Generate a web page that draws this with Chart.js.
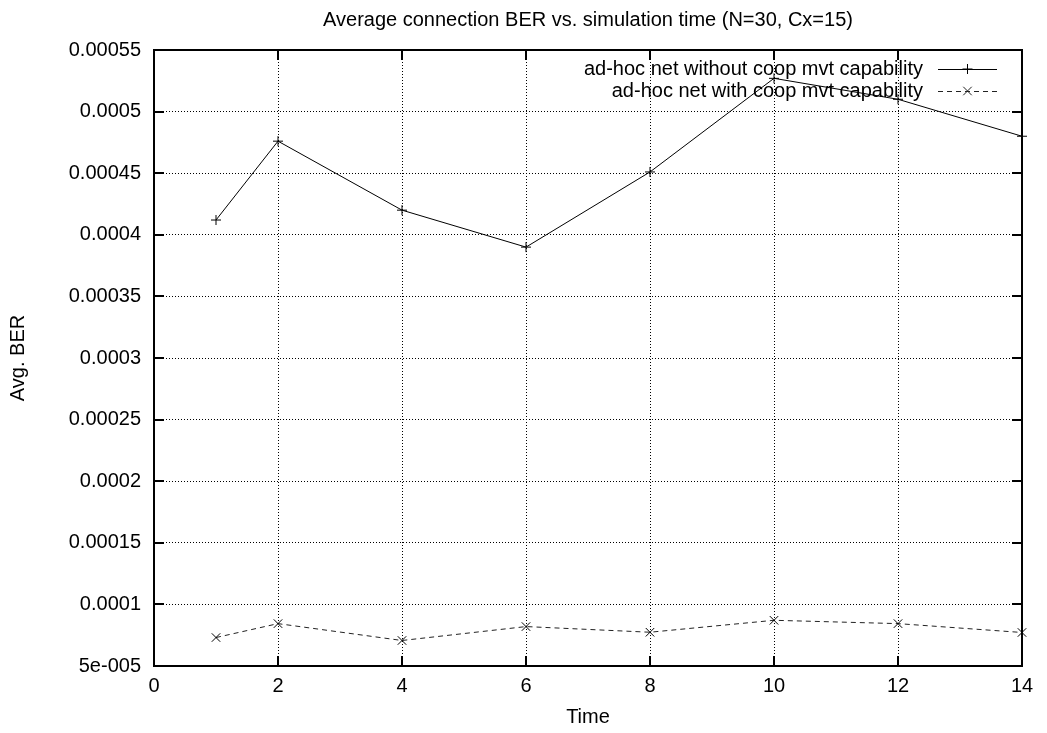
<!DOCTYPE html>
<html>
<head>
<meta charset="utf-8">
<script src="https://cdn.jsdelivr.net/npm/chart.js@4/dist/chart.umd.min.js"></script>
<style>
  html, body { margin: 0; padding: 0; background: #fff; }
  #ber-chart { display: block; }
</style>
</head>
<body>
<canvas id="ber-chart" width="1047" height="733"></canvas>
<script>
// simulation time steps and the two BER series
const times = [1, 2, 4, 6, 8, 10, 12, 14];
const berWithoutCoop = [0.000412, 0.000476, 0.00042, 0.00039, 0.000451, 0.000527, 0.00051, 0.00048];
const berWithCoop = [0.0000731, 0.0000844, 0.0000707, 0.000082, 0.0000774, 0.0000871, 0.0000844, 0.0000772];

const seriesLabels = ['ad-hoc net without coop mvt capability', 'ad-hoc net with coop mvt capability'];
const chartTitle = 'Average connection BER vs. simulation time (N=30, Cx=15)';

const xTickValues = [0, 2, 4, 6, 8, 10, 12, 14];
const yTickValues = [0.00005, 0.0001, 0.00015, 0.0002, 0.00025, 0.0003, 0.00035, 0.0004, 0.00045, 0.0005, 0.00055];
const yTickLabels = ['5e-005', '0.0001', '0.00015', '0.0002', '0.00025', '0.0003', '0.00035', '0.0004', '0.00045', '0.0005', '0.00055'];

const FONT = 'Helvetica, "Liberation Sans", Arial, sans-serif';

function toPoints(ys) {
    return times.map((t, i) => ({x: t, y: ys[i]}));
}

// little helper for the + and x markers (used by the key)
function drawMarker(ctx, style, x, y, r) {
    ctx.beginPath();
    if (style === 'cross') {
        ctx.moveTo(x - r, y); ctx.lineTo(x + r, y);
        ctx.moveTo(x, y - r); ctx.lineTo(x, y + r);
    } else {
        let d = r * Math.SQRT1_2;
        ctx.moveTo(x - d, y - d); ctx.lineTo(x + d, y + d);
        ctx.moveTo(x - d, y + d); ctx.lineTo(x + d, y - d);
    }
    ctx.stroke();
}

// title centred over the plot area rather than the whole canvas
const plotTitlePlugin = {
    id: 'plotTitle',
    afterDraw(chart) {
        const {ctx, chartArea: a} = chart;
        ctx.save();
        ctx.font = '20px ' + FONT;
        ctx.fillStyle = '#000';
        ctx.textAlign = 'center';
        ctx.textBaseline = 'alphabetic';
        ctx.fillText(chartTitle, (a.left + a.right) / 2, 26);
        ctx.restore();
    }
};

// gnuplot style frame with inward ticks on all four sides
const framePlugin = {
    id: 'frame',
    afterDraw(chart) {
        const {ctx, chartArea: a, scales} = chart;
        const len = 10;
        ctx.save();
        ctx.strokeStyle = '#000';
        ctx.lineWidth = 2;
        ctx.strokeRect(a.left, a.top, a.right - a.left, a.bottom - a.top);
        ctx.beginPath();
        scales.x.ticks.forEach(t => {
            let px = Math.round(scales.x.getPixelForValue(t.value));
            ctx.moveTo(px, a.bottom); ctx.lineTo(px, a.bottom - len);
            ctx.moveTo(px, a.top); ctx.lineTo(px, a.top + len);
        });
        scales.y.ticks.forEach(t => {
            let py = Math.round(scales.y.getPixelForValue(t.value));
            ctx.moveTo(a.left, py); ctx.lineTo(a.left + len, py);
            ctx.moveTo(a.right, py); ctx.lineTo(a.right - len, py);
        });
        ctx.stroke();
        ctx.restore();
    }
};

// key in the top right corner: text right aligned, sample line after it
const keyPlugin = {
    id: 'key',
    beforeDatasetsDraw(chart) {
        const ctx = chart.ctx;
        const textRight = 923, lineStart = 938, lineEnd = 997;
        const rows = [69, 91];
        ctx.save();
        ctx.font = '20px ' + FONT;
        ctx.textAlign = 'right';
        ctx.textBaseline = 'middle';
        chart.data.datasets.forEach((ds, i) => {
            let y = rows[i];
            ctx.fillStyle = '#000';
            ctx.fillText(ds.label, textRight, y);
            ctx.strokeStyle = ds.borderColor;
            ctx.lineWidth = 1;
            ctx.setLineDash(ds.borderDash || []);
            ctx.beginPath();
            ctx.moveTo(lineStart, y + 0.5); ctx.lineTo(lineEnd, y + 0.5);
            ctx.stroke();
            ctx.setLineDash([]);
            drawMarker(ctx, ds.pointStyle, (lineStart + lineEnd) / 2, y, ds.pointRadius);
        });
        ctx.restore();
    }
};

const chart = new Chart(document.getElementById('ber-chart').getContext('2d'), {
    type: 'line',
    data: {
        datasets: [{
            label: seriesLabels[0],
            data: toPoints(berWithoutCoop),
            borderColor: '#000',
            borderWidth: 1,
            pointStyle: 'cross',
            pointRadius: 5,
            pointBorderColor: '#000',
            pointBorderWidth: 1,
            tension: 0,
            clip: false
        }, {
            label: seriesLabels[1],
            data: toPoints(berWithCoop),
            borderColor: '#222',
            borderWidth: 1,
            borderDash: [5, 4],
            pointStyle: 'crossRot',
            pointRadius: 6,
            pointBorderColor: '#000',
            pointBorderWidth: 1,
            tension: 0,
            clip: false
        }]
    },
    options: {
        responsive: false,
        animation: false,
        layout: { padding: { left: 0, right: 25, top: 50, bottom: 0 } },
        plugins: {
            legend: { display: false },
            tooltip: { enabled: false },
            title: { display: false }
        },
        scales: {
            x: {
                type: 'linear',
                min: 0,
                max: 14,
                afterBuildTicks: s => { s.ticks = xTickValues.map(v => ({value: v})); },
                afterFit: s => { s.height = 67; },
                ticks: {
                    color: '#000',
                    padding: 8,
                    maxRotation: 0,
                    font: { family: FONT, size: 20 },
                    callback: v => String(v)
                },
                grid: { color: '#000', lineWidth: 1, drawTicks: false },
                border: { display: false, dash: [1, 2] },
                title: {
                    display: true,
                    text: 'Time',
                    color: '#000',
                    font: { family: FONT, size: 20, lineHeight: 1.2 },
                    padding: { top: 0, bottom: 4 }
                }
            },
            y: {
                type: 'linear',
                min: 0.00005,
                max: 0.00055,
                afterBuildTicks: s => { s.ticks = yTickValues.map(v => ({value: v})); },
                afterFit: s => { s.width = 154; },
                ticks: {
                    color: '#000',
                    padding: 13,
                    font: { family: FONT, size: 20 },
                    callback: (v, i) => yTickLabels[i]
                },
                grid: { color: '#000', lineWidth: 1, drawTicks: false },
                border: { display: false, dash: [1, 2] },
                title: {
                    display: true,
                    text: 'Avg. BER',
                    color: '#000',
                    font: { family: FONT, size: 20, lineHeight: 1.2 },
                    padding: { top: 6, bottom: 0 }
                }
            }
        }
    },
    plugins: [keyPlugin, framePlugin, plotTitlePlugin]
});
</script>
</body>
</html>
